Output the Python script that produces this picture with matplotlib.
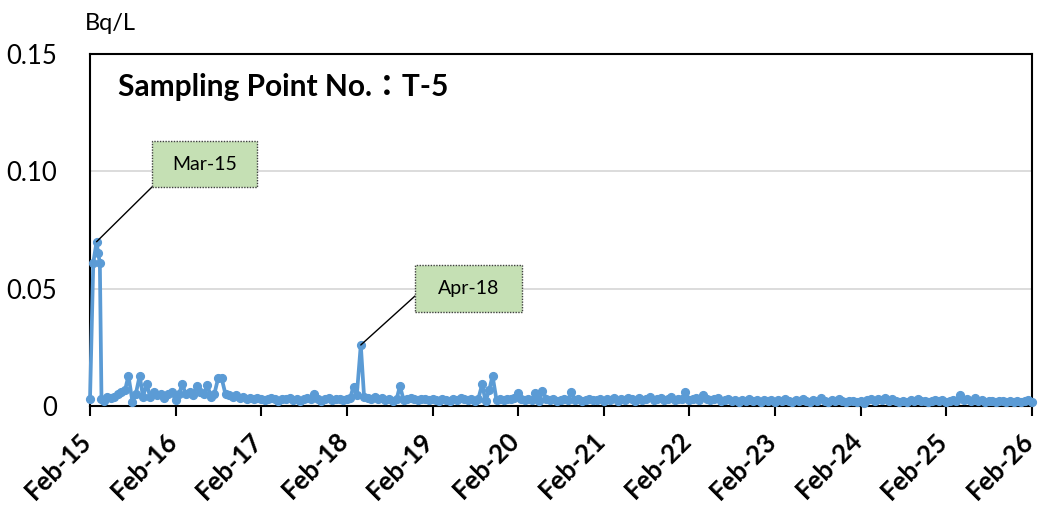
import matplotlib
matplotlib.use("Agg")
import matplotlib.pyplot as plt
import matplotlib.patches as mpatches
import matplotlib.transforms as mtransforms
import pandas as pd

# ---------------- data ----------------
spike_dates = ["2015-02-01", "2015-02-15", "2015-03-01", "2015-03-08", "2015-03-15", "2015-03-22"]
spike_vals = [0.0028, 0.061, 0.070, 0.065, 0.061, 0.0030]

# semi-monthly samples (1st and 15th) from 2015-04-01
vals_2015 = [0.0020, 0.0040, 0.0035, 0.0040, 0.0050, 0.0060, 0.0070, 0.0129, 0.0018,
             0.0050, 0.0129, 0.0040, 0.0094, 0.0040, 0.0060, 0.0045, 0.0050, 0.0035]
vals_2016 = [0.0050, 0.0060, 0.0025, 0.0050, 0.0094, 0.0050, 0.0060, 0.0045, 0.0085, 0.0060,
             0.0050, 0.0090, 0.0040, 0.0050, 0.0120, 0.0120, 0.0050, 0.0045, 0.0040, 0.0045,
             0.0035, 0.0040, 0.0030, 0.0035]
vals_2017 = [0.0030, 0.0035, 0.0030, 0.0025, 0.0030, 0.0035, 0.0030, 0.0020, 0.0030, 0.0028,
             0.0035, 0.0025, 0.0030, 0.0020, 0.0030, 0.0035, 0.0030, 0.0050, 0.0030, 0.0020,
             0.0030, 0.0035, 0.0025, 0.0030]
vals_2018 = [0.0030, 0.0025, 0.0030, 0.0035, 0.0083, 0.0045, 0.0260, 0.0040, 0.0035, 0.0030,
             0.0040, 0.0030, 0.0035, 0.0025, 0.0030, 0.0020, 0.0030, 0.0085, 0.0025, 0.0030,
             0.0035, 0.0030, 0.0025, 0.0030]
vals_2019 = [0.0030, 0.0025, 0.0030, 0.0025, 0.0020, 0.0030, 0.0025, 0.0020, 0.0030, 0.0025,
             0.0035, 0.0030, 0.0025, 0.0030, 0.0020, 0.0030, 0.0093, 0.0020, 0.0068, 0.0129,
             0.0025, 0.0030, 0.0025, 0.0030]
vals_2020 = [0.0030, 0.0035, 0.0054, 0.0030, 0.0025, 0.0030, 0.0025, 0.0057, 0.0020, 0.0065,
             0.0030, 0.0025, 0.0030, 0.0020, 0.0025, 0.0030, 0.0025, 0.0061, 0.0025, 0.0030,
             0.0020, 0.0025, 0.0030, 0.0025]
vals_2021 = [0.0025, 0.0030, 0.0022, 0.0030, 0.0025, 0.0035, 0.0020, 0.0030, 0.0025, 0.0035,
             0.0030, 0.0022, 0.0035, 0.0025, 0.0030, 0.0040, 0.0025, 0.0030, 0.0035, 0.0025,
             0.0030, 0.0040, 0.0025, 0.0030]
vals_2022 = [0.0030, 0.0058, 0.0025, 0.0030, 0.0035, 0.0025, 0.0046, 0.0030, 0.0025, 0.0030,
             0.0035, 0.0020, 0.0025, 0.0030, 0.0022, 0.0025, 0.0018, 0.0025, 0.0020, 0.0028,
             0.0020, 0.0025, 0.0018, 0.0025]
vals_2023 = [0.0020, 0.0025, 0.0018, 0.0025, 0.0020, 0.0030, 0.0022, 0.0018, 0.0025, 0.0020,
             0.0028, 0.0022, 0.0015, 0.0025, 0.0020, 0.0032, 0.0022, 0.0018, 0.0025, 0.0020,
             0.0028, 0.0020, 0.0015, 0.0022]
vals_2024 = [0.0022, 0.0018, 0.0020, 0.0012, 0.0025, 0.0028, 0.0020, 0.0030, 0.0025, 0.0032,
             0.0022, 0.0028, 0.0020, 0.0015, 0.0022, 0.0018, 0.0025, 0.0020, 0.0028, 0.0020,
             0.0022, 0.0018, 0.0020, 0.0025]
vals_2025 = [0.0020, 0.0025, 0.0018, 0.0022, 0.0025, 0.0020, 0.0046, 0.0025, 0.0030, 0.0022,
             0.0035, 0.0020, 0.0025, 0.0018, 0.0022, 0.0020, 0.0018, 0.0022, 0.0020, 0.0015,
             0.0022, 0.0018, 0.0020, 0.0015]
vals_2026 = [0.0020, 0.0025, 0.0015]

tick_labels = ["Feb-15", "Feb-16", "Feb-17", "Feb-18", "Feb-19", "Feb-20",
               "Feb-21", "Feb-22", "Feb-23", "Feb-24", "Feb-25", "Feb-26"]
y_ticks = [0, 0.05, 0.10, 0.15]
y_tick_labels = ["0", "0.05", "0.10", "0.15"]
title = "Sampling Point No.\uff1aT-5"
unit = "Bq/L"
ann_labels = ["Mar-15", "Apr-18"]
ann_dates = ["2015-03-01", "2018-04-01"]
ann_vals = [0.070, 0.026]

# ---------------- build series ----------------
regular_vals = (vals_2015 + vals_2016 + vals_2017 + vals_2018 + vals_2019 + vals_2020 +
                vals_2021 + vals_2022 + vals_2023 + vals_2024 + vals_2025 + vals_2026)
regular_dates = pd.date_range("2015-04-01", periods=len(regular_vals), freq="SMS")
dates = list(pd.to_datetime(spike_dates)) + list(regular_dates)
values = spike_vals + regular_vals

# ---------------- style ----------------
FONT = ["Lato", "Noto Sans CJK JP", "DejaVu Sans"]
plt.rcParams["font.family"] = FONT
W, H = 1041, 511
fig = plt.figure(figsize=(W / 100, H / 100), dpi=100)
ax = fig.add_axes([90 / W, 1 - 406 / H, (1032 - 90) / W, (406 - 54) / H])

blue = "#5B9BD5"
ax.plot(dates, values, color=blue, lw=2.7, marker="o", ms=5.6, mec=blue, mfc=blue,
        solid_joinstyle="round", zorder=3, clip_on=False)

ax.set_xlim(pd.Timestamp("2015-02-01"), pd.Timestamp("2026-02-01"))
ax.set_ylim(0, 0.15)

tick_pos = pd.date_range("2015-02-01", "2026-02-01", freq="12MS")
ax.set_xticks(tick_pos)
ax.set_xticklabels(tick_labels, rotation=45, ha="right", va="center",
                   rotation_mode="anchor", fontsize=18.5, fontweight="bold")
ax.tick_params(axis="x", direction="out", length=7, width=1.5, pad=15)
shift = mtransforms.ScaledTranslation(-0.025, 0, fig.dpi_scale_trans)
for lbl in ax.get_xticklabels():
    lbl.set_transform(lbl.get_transform() + shift)

ax.set_yticks(y_ticks)
ax.set_yticklabels(y_tick_labels, fontsize=18.5)
ax.tick_params(axis="y", length=0, pad=24)

ax.grid(axis="y", color="#D9D9D9", lw=1.3, zorder=0)
for s in ax.spines.values():
    s.set_color("black")
    s.set_linewidth(1.5)
ax.set_axisbelow(True)

# title inside plot
fig.text(118 / W, 1 - 87 / H, title, fontsize=21.5, fontweight="bold",
         ha="left", va="center", family=FONT)
# unit
fig.text(85 / W, 1 - 23 / H, unit, fontsize=17, ha="left", va="center")

# annotation boxes (pixel geometry)
boxes = [(152, 141, 257, 187), (415, 265, 522, 312)]
anchors = [(152, 187), (415, 296)]
for lab, d, v, (x0, y0, x1, y1), (axp, ayp) in zip(ann_labels, ann_dates, ann_vals, boxes, anchors):
    rect = mpatches.Rectangle((x0 / W, 1 - y1 / H), (x1 - x0) / W, (y1 - y0) / H,
                              transform=fig.transFigure, facecolor="#C5E0B4",
                              edgecolor="#404040", lw=1.0, ls=(0, (1, 1)), zorder=10)
    fig.patches.append(rect)
    fig.text((x0 + x1) / 2 / W, 1 - (y0 + y1) / 2 / H, lab, fontsize=14,
             ha="center", va="center", zorder=11)
    ax.annotate("", xy=(pd.Timestamp(d), v), xycoords="data",
                xytext=(axp / W, 1 - ayp / H), textcoords="figure fraction",
                arrowprops=dict(arrowstyle="-", color="black", lw=1.0,
                                shrinkA=0, shrinkB=0), zorder=9)

fig.savefig("out.png", dpi=100)
